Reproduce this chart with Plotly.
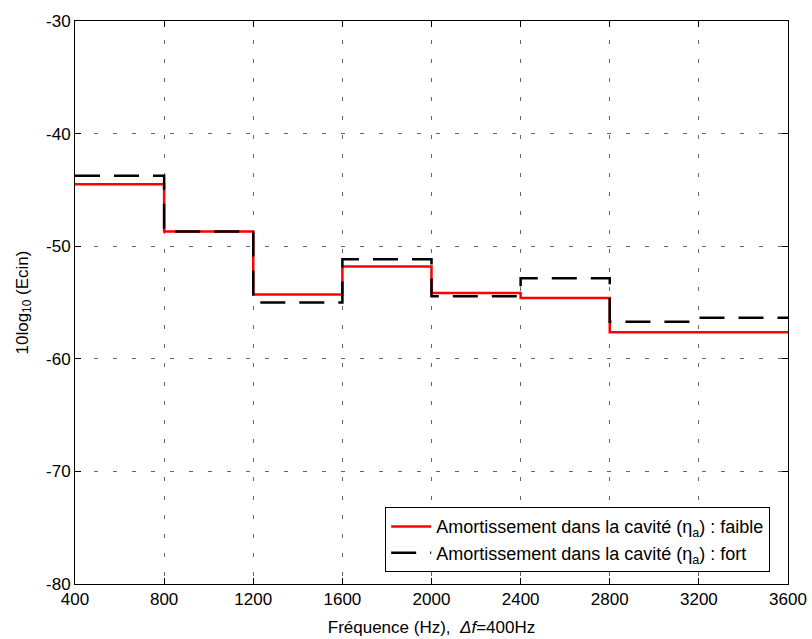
import plotly.graph_objects as go

freq_edges = [400, 800, 1200, 1600, 2000, 2400, 2800, 3200, 3600]
faible = [-44.5, -48.7, -54.3, -51.8, -54.15, -54.6, -57.65, -57.65]
fort = [-43.75, -48.7, -55.0, -51.15, -54.45, -52.85, -56.7, -56.35]

x_ticks = [400, 800, 1200, 1600, 2000, 2400, 2800, 3200, 3600]
y_ticks = [-80, -70, -60, -50, -40, -30]

font_family = "Liberation Sans, Arial, sans-serif"

fig = go.Figure()
fig.add_trace(go.Scatter(
    x=freq_edges, y=faible + [faible[-1]], mode="lines", line_shape="hv",
    line=dict(color="#ff0000", width=2.5),
    name="Amortissement dans la cavité (η<sub>a</sub>) : faible"))
fig.add_trace(go.Scatter(
    x=freq_edges, y=fort + [fort[-1]], mode="lines", line_shape="hv",
    line=dict(color="#000000", width=2.5, dash="25px,14px"),
    name="Amortissement dans la cavité (η<sub>a</sub>) : fort"))

axis_common = dict(
    showline=True, linecolor="black", linewidth=1, mirror="ticks",
    ticks="inside", ticklen=6, tickcolor="black",
    showgrid=True, gridcolor="#666666", gridwidth=1, griddash="4px,15px",
    zeroline=False, automargin=False,
    tickfont=dict(family=font_family, size=17, color="black"),
)

fig.update_xaxes(range=[400, 3600], tickvals=x_ticks, ticktext=[str(v) for v in x_ticks],
                 title=dict(text="Fréquence (Hz),  <i>Δf</i>=400Hz",
                            font=dict(family=font_family, size=17, color="black"), standoff=12),
                 **axis_common)
fig.update_yaxes(range=[-80, -30], tickvals=y_ticks, ticktext=[str(v) for v in y_ticks],
                 title=dict(text="10log<sub>10</sub> (Ecin)",
                            font=dict(family=font_family, size=17, color="black"), standoff=13),
                 **axis_common)

fig.update_layout(
    width=812, height=639,
    margin=dict(l=75, r=24, t=21, b=55),
    plot_bgcolor="white", paper_bgcolor="white",
    font=dict(family=font_family, size=17, color="black"),
    legend=dict(x=0.975, y=0.021, xanchor="right", yanchor="bottom",
                bgcolor="white", bordercolor="black", borderwidth=1,
                font=dict(family=font_family, size=18, color="black"),
                tracegroupgap=0, itemwidth=40),
    showlegend=True,
)

fig.write_html(
    "out.html",
    config={"displayModeBar": False},
    post_script="document.body.style.margin='0';document.body.style.overflow='hidden';",
)
